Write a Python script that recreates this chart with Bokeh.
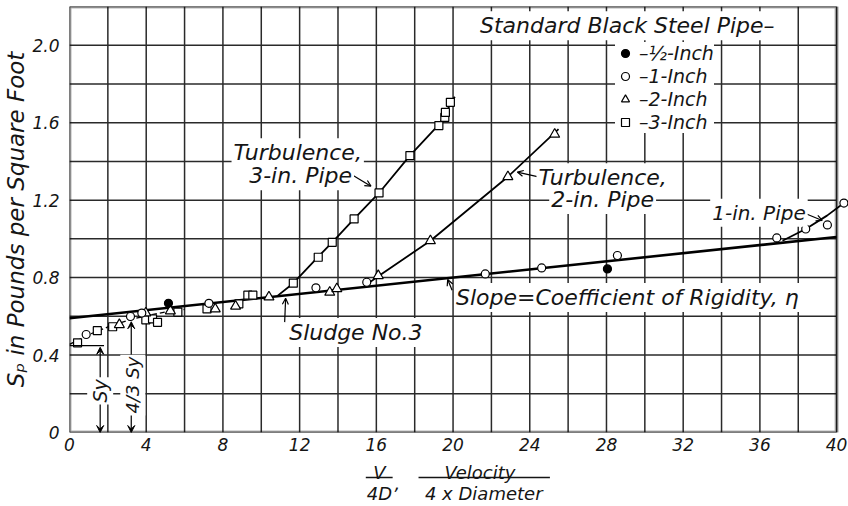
from bokeh.plotting import figure
from bokeh.layouts import column
from bokeh.models import (Range1d, FixedTicker, BoxAnnotation, Label, Arrow,
                          VeeHead, OpenHead, Legend, LegendItem)
from bokeh.core.properties import value
from bokeh.embed import file_html
from bokeh.resources import INLINE

# ---------------- data ----------------
half_x = [5.16, 28.05]
half_y = [0.667, 0.845]

one_x = [0.87, 3.18, 3.77, 7.27, 12.85, 15.5, 21.68, 24.62, 28.57, 36.88, 38.39, 39.52, 40.38]
one_y = [0.506, 0.599, 0.617, 0.667, 0.747, 0.776, 0.819, 0.85, 0.914, 1.005, 1.051, 1.072, 1.185]

two_x = [2.6, 3.98, 5.26, 7.6, 8.66, 10.4, 13.57, 13.94, 16.1, 18.82, 22.86, 25.3]
two_y = [0.557, 0.617, 0.628, 0.638, 0.652, 0.70, 0.724, 0.742, 0.81, 0.99, 1.321, 1.54]

three_x = [0.42, 1.45, 2.25, 3.98, 4.33, 4.59, 5.65, 7.17, 8.83, 9.3, 9.56, 11.67,
           12.97, 13.7, 14.84, 16.14, 17.75, 19.26, 19.57, 19.6, 19.86]
three_y = [0.463, 0.526, 0.546, 0.582, 0.587, 0.569, 0.622, 0.638, 0.664, 0.709, 0.709, 0.771,
           0.905, 0.982, 1.103, 1.237, 1.43, 1.585, 1.627, 1.653, 1.705]

# fitted lines drawn on the chart
main_x = [0, 40]
main_y = [0.59, 1.01]
plug_x = [0, 1, 2, 3, 4, 5, 6]
plug_y = [0.455, 0.505, 0.545, 0.578, 0.603, 0.622, 0.636]
t3_x = [10.86, 11.67, 12.94, 13.7, 14.84, 16.14, 17.75, 19.26, 20.09]
t3_y = [0.707, 0.771, 0.905, 0.982, 1.103, 1.237, 1.43, 1.59, 1.734]
t2_x = [15.5, 16.14, 18.82, 22.86, 25.5]
t2_y = [0.765, 0.81, 0.99, 1.321, 1.567]
t1_x = [37.18, 38.39, 39.5, 40.45]
t1_y = [0.99, 1.051, 1.12, 1.19]

# axes / grid
x_ticks = [0, 4, 8, 12, 16, 20, 24, 28, 32, 36, 40]
y_ticks = [0, 0.4, 0.8, 1.2, 1.6, 2.0]
y_tick_labels = ["0", "0.4", "0.8", "1.2", "1.6", "2.0"]
x_grid = [2 * i for i in range(21)]
y_grid = [round(0.2 * i, 1) for i in range(12)]

legend_labels = ["\u2013\u00bd-Inch", "\u20131-Inch", "\u20132-Inch", "\u20133-Inch"]
x_label_top = ["V", "Velocity"]
x_label_bottom = ["4D", "4 x Diameter"]

FONT = "DejaVu Sans"
INK = "#151515"

x_range = Range1d(0, 40.62)
p = figure(width=848, height=458, x_range=x_range, y_range=Range1d(0, 2.2),
           output_backend="svg", toolbar_location=None, title_location=None,
           min_border_left=66, min_border_right=0, min_border_top=6, min_border_bottom=26)
p.outline_line_color = None
p.xgrid.visible = False
p.ygrid.visible = False

for ax in (p.xaxis[0], p.yaxis[0]):
    ax.axis_line_color = None
    ax.major_tick_line_color = None
    ax.minor_tick_line_color = None
    ax.major_tick_out = 0
    ax.major_tick_in = 0
    ax.minor_tick_out = 0
    ax.minor_tick_in = 0
    ax.major_label_text_font = FONT
    ax.major_label_text_font_style = "italic"
    ax.major_label_text_font_size = "17px"
    ax.major_label_text_color = INK

p.xaxis.ticker = FixedTicker(ticks=x_ticks)
p.yaxis.ticker = FixedTicker(ticks=y_ticks)
p.yaxis.major_label_overrides = {v: t for v, t in zip(y_ticks, y_tick_labels)}
p.xaxis.major_label_standoff = 5
p.yaxis.major_label_standoff = 10
p.yaxis.axis_label = "S\u209a in Pounds per Square Foot"
p.yaxis.axis_label_text_font = FONT
p.yaxis.axis_label_text_font_style = "italic"
p.yaxis.axis_label_text_font_size = "23px"
p.yaxis.axis_label_text_color = INK
p.yaxis.axis_label_standoff = 0

# grid drawn only inside the 0..40 frame
p.segment(x0=x_grid, y0=0, x1=x_grid, y1=2.2, line_color="#2a2a2a", line_width=1.5)
p.segment(x0=0, y0=y_grid, x1=40, y1=y_grid, line_color="#2a2a2a", line_width=1.5)

# curves
p.line(main_x, main_y, line_color="black", line_width=2.6)
p.line(plug_x, plug_y, line_color="black", line_width=1.3, line_dash="5 3")
p.line(t3_x, t3_y, line_color="black", line_width=1.8)
p.line(t2_x, t2_y, line_color="black", line_width=1.8)
p.line(t1_x, t1_y, line_color="black", line_width=1.8)

# points
r3 = p.scatter(three_x, three_y, marker="square", size=8, fill_color="white",
               line_color="black", line_width=1.2)
r2 = p.scatter(two_x, two_y, marker="triangle", size=10, fill_color="white",
               line_color="black", line_width=1.2)
r1 = p.scatter(one_x, one_y, marker="circle", size=8, fill_color="white",
               line_color="black", line_width=1.2)
rh = p.scatter(half_x, half_y, marker="circle", size=8, fill_color="black",
               line_color="black", line_width=1.2)

# frame
p.add_layout(BoxAnnotation(left=0, right=40, bottom=0, top=2.2, fill_color=None,
                           line_color="black", line_width=4))

# Sy construction lines
def arrow(x0, y0, x1, y1, head=True, w=1.2, hs=7):
    p.add_layout(Arrow(x_start=x0, y_start=y0, x_end=x1, y_end=y1,
                       end=VeeHead(size=hs, fill_color="black", line_color="black", line_width=1) if head else None,
                       line_color="black", line_width=w))

arrow(0, 0.449, 1.8, 0.449, head=False)
arrow(1.6, 0.2, 1.6, 0.44)
arrow(1.6, 0.2, 1.6, 0.0)
arrow(3.22, 0.25, 3.22, 0.572)
arrow(3.22, 0.25, 3.22, 0.0)

# leaders
def leader(x0, y0, x1, y1):
    p.add_layout(Arrow(x_start=x0, y_start=y0, x_end=x1, y_end=y1,
                       end=OpenHead(size=6, line_color="black", line_width=1.2),
                       line_color="black", line_width=1.2))

leader(14.75, 1.33, 15.72, 1.272)
leader(24.45, 1.32, 23.35, 1.345)
leader(38.4, 1.13, 39.25, 1.095)
leader(19.95, 0.735, 19.72, 0.79)
leader(11.22, 0.57, 11.27, 0.693)

def lab(x, y, text, align="left", angle=0, size="21px"):
    p.add_layout(Label(x=x, y=y, text=text, text_align=align, text_baseline="middle",
                       text_font=FONT, text_font_style="italic", text_font_size=size,
                       text_color=INK, angle=angle, angle_units="deg",
                       background_fill_color="white", padding=2))

lab(21.3, 2.10, "Standard Black Steel Pipe\u2013", size="22px")
lab(11.9, 1.445, "Turbulence,", align="center", size="22px")
lab(12.05, 1.326, "3-in. Pipe", align="center", size="22px")
lab(27.8, 1.316, "Turbulence,", align="center", size="22px")
lab(27.8, 1.203, "2-in. Pipe", align="center", size="22px")
lab(35.95, 1.135, "1-in. Pipe", align="center", size="20px")
lab(20.05, 0.697, "Slope=Coefficient of Rigidity, \u03b7", size="22px")
lab(11.35, 0.516, "Sludge No.3", size="22px")
lab(1.6, 0.215, "Sy", align="center", angle=90, size="19px")
lab(3.3, 0.245, "4/3 Sy", align="center", angle=90, size="18px")

legend = Legend(items=[LegendItem(label=legend_labels[0], renderers=[rh]),
                       LegendItem(label=legend_labels[1], renderers=[r1]),
                       LegendItem(label=legend_labels[2], renderers=[r2]),
                       LegendItem(label=legend_labels[3], renderers=[r3])],
                location=(546, 299), background_fill_color="white", background_fill_alpha=1,
                border_line_color=None, padding=6, spacing=1, label_height=22,
                glyph_height=22, glyph_width=20, label_standoff=4, margin=0,
                label_text_font=FONT, label_text_font_style="italic",
                label_text_font_size="19px", label_text_color=INK)
p.add_layout(legend)

# x-axis label (two stacked fractions) in a strip below the chart;
# its vertical scale runs downward from the strip's top edge
q = figure(width=848, height=48, x_range=x_range, y_range=Range1d(48, 0),
           output_backend="svg", toolbar_location=None, title_location=None,
           x_axis_location=None, y_axis_location=None,
           min_border_left=66, min_border_right=0, min_border_top=0, min_border_bottom=0)
q.outline_line_color = None
q.xgrid.visible = False
q.ygrid.visible = False
q.text(x=[16.16, 21.4], y=[14, 14], text=x_label_top, text_align="center",
       text_baseline="alphabetic", text_font=value(FONT), text_font_style="italic",
       text_font_size="18px", text_color=INK)
q.text(x=[16.16, 21.6], y=[35, 35], text=x_label_bottom, text_align="center",
       text_baseline="alphabetic", text_font=value(FONT), text_font_style="italic",
       text_font_size="18px", text_color=INK)
q.text(x=[17.1], y=[25], text=[","], text_align="center",
       text_baseline="alphabetic", text_font=value(FONT), text_font_style="italic",
       text_font_size="18px", text_color=INK)
q.segment(x0=[15.45, 18.2], y0=19, x1=[16.85, 25.05], y1=19, line_color=INK, line_width=1.6)

layout = column(p, q, spacing=0)
open("out.html", "w").write(file_html(layout, INLINE))
